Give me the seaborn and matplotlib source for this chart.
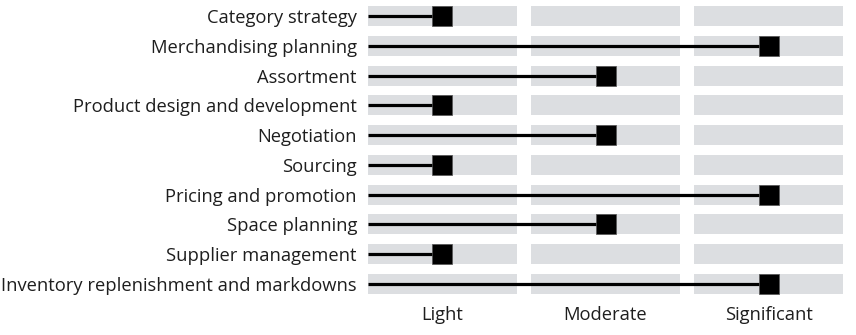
import matplotlib
matplotlib.use("Agg")
import matplotlib.pyplot as plt
import seaborn as sns
import pandas as pd

categories = [
    "Category strategy",
    "Merchandising planning",
    "Assortment",
    "Product design and development",
    "Negotiation",
    "Sourcing",
    "Pricing and promotion",
    "Space planning",
    "Supplier management",
    "Inventory replenishment and markdowns",
]
levels = ["Light", "Moderate", "Significant"]
impact = [
    "Light", "Significant", "Moderate", "Light", "Moderate",
    "Light", "Significant", "Moderate", "Light", "Significant",
]

sns.set_theme(style="white")
plt.rcParams["font.family"] = ["Open Sans", "DejaVu Sans"]

SEG = 0.91          # width of one level segment; the rest of each unit is the gap
BAND = 0.67         # height of a row band

df = pd.DataFrame({"category": categories, "impact": impact})
df["row"] = range(len(categories))
df["x"] = df["impact"].map({lv: i + SEG / 2 for i, lv in enumerate(levels)})

fig = plt.figure(figsize=(8.56, 3.35), dpi=100)
ax = fig.add_axes([368 / 856, 1 - 294 / 335, 475 / 856, 288 / 335])

# grey background segments, one per level on every row
for i, _ in enumerate(levels):
    ax.barh(df["row"], SEG, left=i, height=BAND, color="#dcdee1", linewidth=0, zorder=0)

# stem from the left edge to the marker
ax.hlines(df["row"], 0, df["x"], color="black", linewidth=2.3, zorder=2)
sns.scatterplot(data=df, x="x", y="row", marker="s", s=205, color="black",
                edgecolor="#555555", linewidth=0.5, ax=ax, zorder=3, legend=False)

ax.set_xlim(0, 2 + SEG)
ax.set_ylim(len(categories) - 1 + BAND / 2, -BAND / 2)
ax.set_xticks([i + SEG / 2 for i in range(len(levels))])
ax.set_xticklabels(levels)
ax.set_yticks(df["row"])
ax.set_yticklabels(categories)
ax.tick_params(axis="both", length=0, labelsize=13.2, colors="#1e1e1e")
ax.tick_params(axis="y", pad=8)
ax.tick_params(axis="x", pad=8.5)
ax.set_xlabel("")
ax.set_ylabel("")
for s in ax.spines.values():
    s.set_visible(False)

fig.savefig("out.png", dpi=100, facecolor="white")
